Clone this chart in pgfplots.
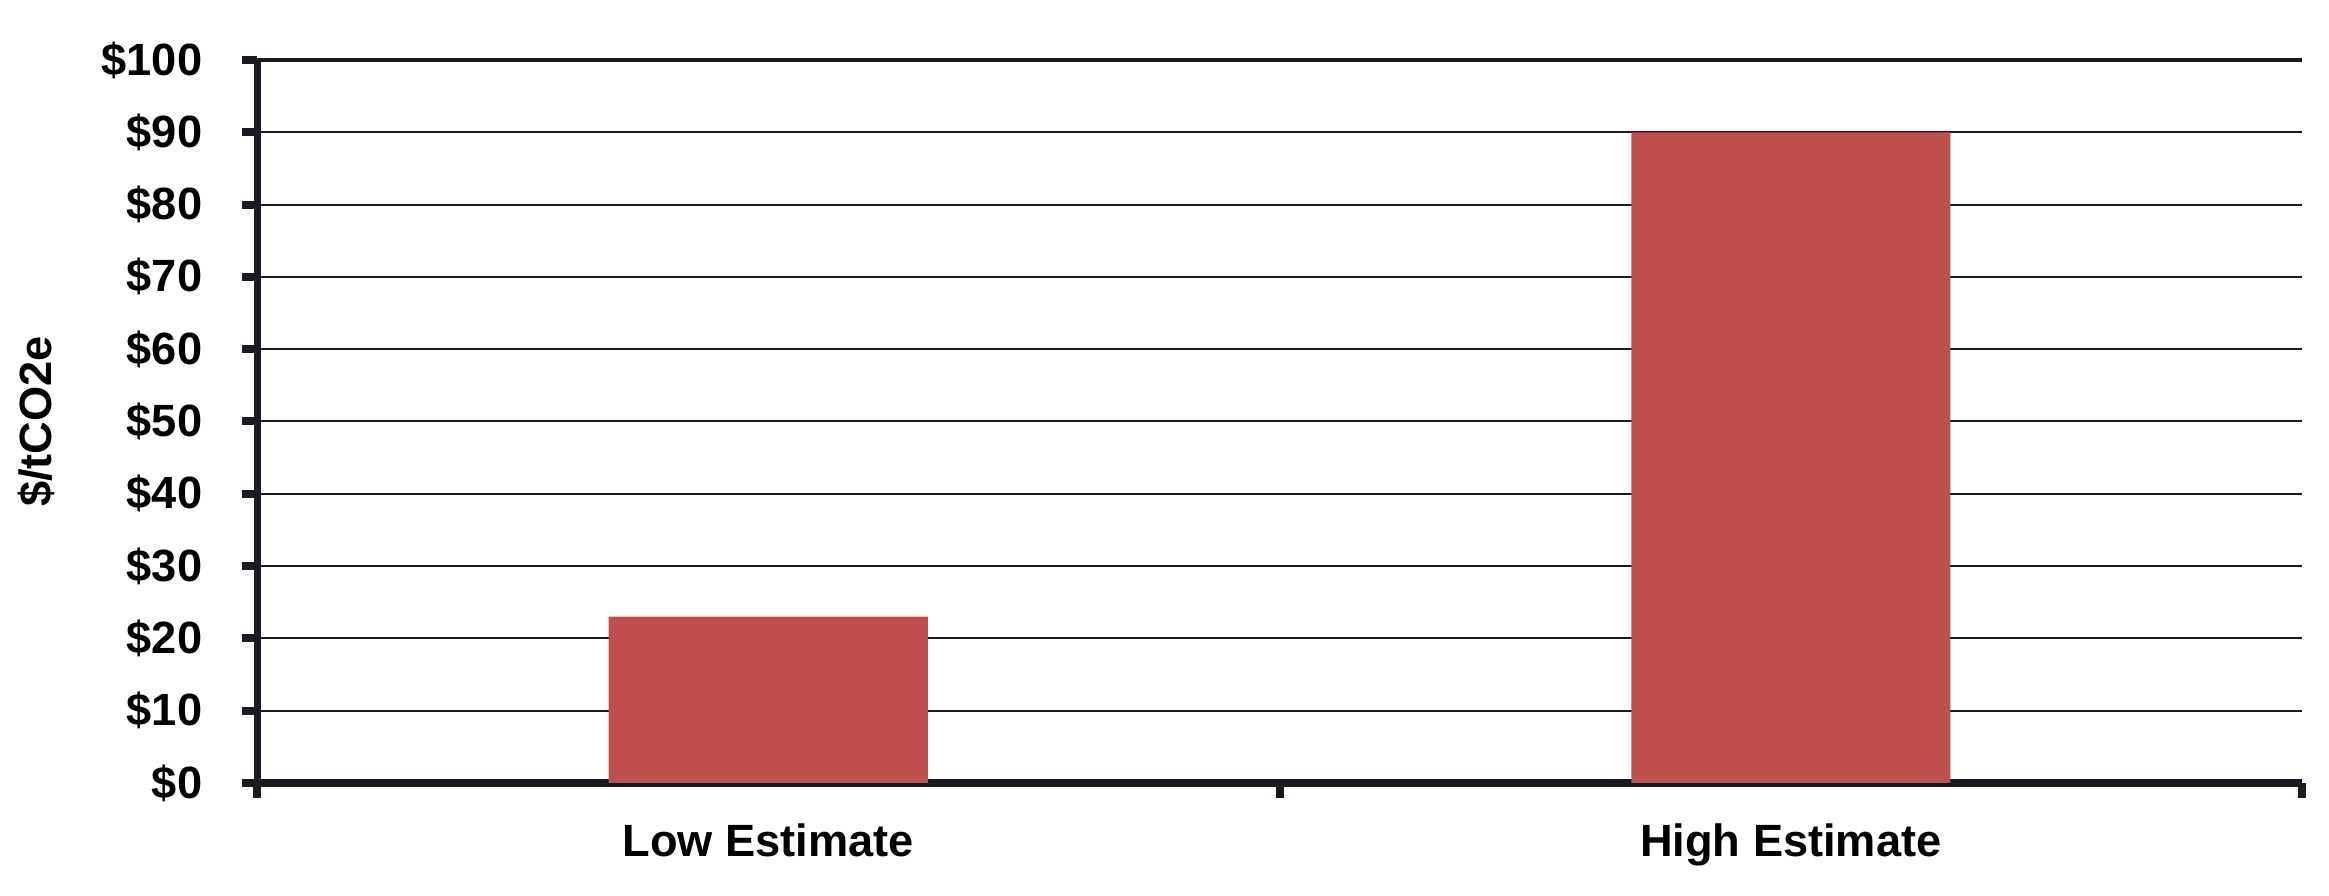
\documentclass[border=0pt]{standalone}
\usepackage{pgfplots}
\pgfplotsset{compat=1.18}
\usepackage{fontspec}
\setmainfont{Liberation Sans}
\definecolor{barred}{HTML}{C0504D}
\definecolor{ink}{HTML}{1A1A22}
\pgfplotsset{
  layers/barlayers/.define layer set={axis background,axis grid,main,axis ticks,axis lines,axis tick labels,axis descriptions,axis foreground}{},
}
\begin{document}
\begin{tikzpicture}[font=\fontsize{11.3}{13}\selectfont\bfseries]
\begin{axis}[
  set layers=barlayers,
  scale only axis,
  width=511.25pt,height=180.75pt,
  xmin=-0.5,xmax=1.5,ymin=0,ymax=100,
  axis x line*=bottom,axis y line*=left,
  axis line style={ink},
  x axis line style={line width=2pt,-},
  y axis line style={line width=1.75pt,-},
  xtick={-0.5,0.5,1.5},xticklabels={},
  extra x ticks={0,1},
  extra x tick labels={Low Estimate,High Estimate},
  extra x tick style={major tick length=0pt,grid=none,
    xticklabel style={anchor=north,inner sep=0pt,yshift=-10pt}},
  ytick={0,10,...,90},
  extra y ticks={100},
  extra y tick style={grid style={line width=0.8pt}},
  yticklabel={\$\pgfmathprintnumber{\tick}},
  /pgf/number format/assume math mode=true,
  yticklabel style={anchor=east,inner sep=0pt,xshift=-9.75pt},
  tick align=outside,
  major tick length=3.75pt,
  x tick style={ink,line width=2pt},
  y tick style={ink,line width=2pt},
  ymajorgrids,
  grid style={ink,line width=0.5pt},
  ylabel={\$/tCO2e},
  ylabel style={at={(axis description cs:0,0.5)},anchor=center,yshift=55.25pt},
  ybar,bar width=0.312,
  clip=false,
]
\addplot[fill=barred,draw=none] coordinates {(0,23) (1,90)};
\end{axis}
\path (-64.25pt,-28.25pt) rectangle (518pt,195.75pt);
\end{tikzpicture}
\end{document}
